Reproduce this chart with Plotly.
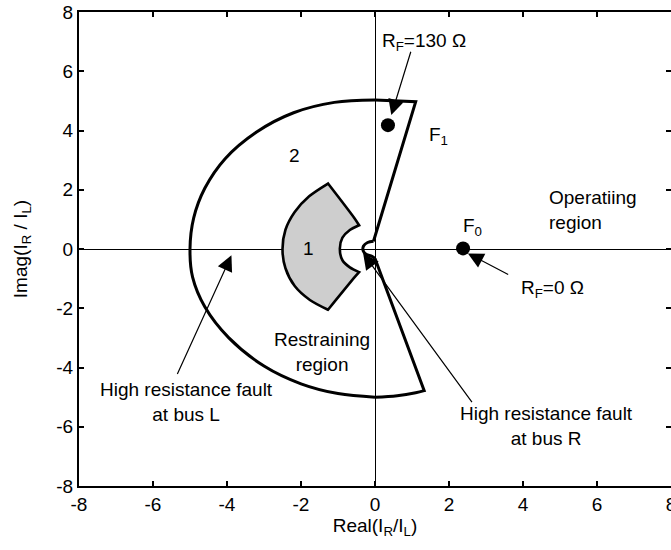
import plotly.graph_objects as go

# ---- relay characteristic in the current-ratio plane (I_R / I_L) ----
# outer restraint boundary (region 2): straight edges on the right
edge_top_x = [0.0, 0.55, 1.10, -0.04]
edge_top_y = [5.03, 5.00, 4.97, 0.26]
# small hook around the origin
hook_x = [-0.04, -0.20, -0.31, -0.32, -0.24, -0.08, 0.0]
hook_y = [0.26, 0.22, 0.10, -0.06, -0.18, -0.25, -0.32]
edge_bot_x = [0.0, 1.33, 1.33, 1.10, 0.60, 0.0]
edge_bot_y = [-0.32, -4.78, -4.78, -4.85, -4.95, -5.0]
# large arc on the left
arc2_x = [0.0, -1.10, -2.20, -3.20, -4.05, -4.60, -4.90, -5.00,
          -4.93, -4.60, -3.95, -3.00, -2.00, -1.00, 0.0]
arc2_y = [5.03, 4.95, 4.60, 3.95, 3.05, 2.05, 1.05, 0.00,
          -0.95, -1.95, -3.00, -3.95, -4.55, -4.88, -5.0]

# inner restraint sector (region 1); corner points are listed twice
reg1_x = [-1.27, -1.27, -0.55, -0.43, -0.43, -0.68, -0.88, -0.95, -0.88, -0.68,
          -0.43, -0.43, -0.55, -1.27, -1.27, -1.76, -2.17, -2.42, -2.50, -2.42,
          -2.17, -1.78, -1.27]
reg1_y = [2.21, 2.21, 1.03, 0.80, 0.80, 0.64, 0.38, 0.02, -0.38, -0.62,
          -0.78, -0.78, -0.95, -2.05, -2.05, -1.72, -1.25, -0.65, 0.00, 0.65,
          1.25, 1.78, 2.21]

# fault points F1 (R_F = 130 ohm) and F0 (R_F = 0 ohm)
fault_x = [0.35, 2.38]
fault_y = [4.18, 0.02]

# axis ticks
tick_vals = [-8, -6, -4, -2, 0, 2, 4, 6, 8]
tick_text = ["-8", "-6", "-4", "-2", "0", "2", "4", "6", "8"]

FONT = "Liberation Sans, Arial, Helvetica, sans-serif"
FS = 19

fig = go.Figure()

fig.add_trace(go.Scatter(x=reg1_x, y=reg1_y, mode="lines", fill="toself",
                         fillcolor="#cecece",
                         line=dict(color="black", width=2.6, shape="spline", smoothing=0.8),
                         hoverinfo="skip"))
for xs, ys, shp in [(edge_top_x, edge_top_y, "linear"), (hook_x, hook_y, "spline"),
                    (edge_bot_x, edge_bot_y, "spline"), (arc2_x, arc2_y, "spline")]:
    fig.add_trace(go.Scatter(x=xs, y=ys, mode="lines",
                             line=dict(color="black", width=3, shape=shp),
                             hoverinfo="skip"))

fig.add_trace(go.Scatter(x=fault_x, y=fault_y, mode="markers",
                         marker=dict(color="black", size=14), hoverinfo="skip"))

annotations = []

def label(x, y, text, xanchor="center", align="center"):
    annotations.append(dict(x=x, y=y, xref="x", yref="y", text=text, showarrow=False,
                            xanchor=xanchor, align=align,
                            font=dict(family=FONT, size=FS, color="black")))

def arrow(x_tail, y_tail, x_head, y_head):
    annotations.append(dict(x=x_head, y=y_head, ax=x_tail, ay=y_tail,
                            xref="x", yref="y", axref="x", ayref="y", text="",
                            showarrow=True, arrowhead=2, arrowsize=2.6,
                            arrowwidth=1.2, arrowcolor="black"))

label(-1.81, 0.02, "1")
label(-2.17, 3.17, "2")
label(1.72, 3.82, "F<sub>1</sub>")
label(2.64, 0.74, "F<sub>0</sub>")
label(4.66, 1.31, "Operatiing<br>region", xanchor="left", align="left")
label(-1.44, -3.48, "Restraining<br>region")
label(-5.09, -5.15, "High resistance fault<br>at bus L")
label(4.63, -5.97, "High resistance fault<br>at bus R")
label(1.32, 6.98, "R<sub>F</sub>=130 Ω")
label(4.80, -1.34, "R<sub>F</sub>=0 Ω")

arrow(0.98, 6.71, 0.44, 4.52)
arrow(3.64, -0.89, 2.51, -0.15)
arrow(-5.36, -4.27, -3.88, -0.21)
arrow(2.65, -5.22, -0.32, -0.15)

axis_common = dict(range=[-8, 8], tickvals=tick_vals, ticktext=tick_text,
                   ticks="inside", ticklen=5, tickwidth=1.5, tickcolor="black",
                   showline=True, linewidth=2, linecolor="black", mirror="ticks",
                   showgrid=False, zeroline=True, zerolinecolor="black",
                   zerolinewidth=1, ticklabeloverflow="allow", automargin=False,
                   tickfont=dict(family=FONT, size=FS, color="black"))

fig.update_layout(
    width=671, height=550,
    margin=dict(l=79, r=0, t=12, b=64),
    paper_bgcolor="white", plot_bgcolor="white",
    showlegend=False,
    annotations=annotations,
    xaxis=dict(**axis_common,
               title=dict(text="Real(I<sub>R</sub>/I<sub>L</sub>)",
                          font=dict(family=FONT, size=FS, color="black"), standoff=2)),
    yaxis=dict(**axis_common,
               title=dict(text="Imag(I<sub>R</sub> / I<sub>L</sub>)",
                          font=dict(family=FONT, size=FS, color="black"), standoff=24)),
)

fig.write_html("out.html")
